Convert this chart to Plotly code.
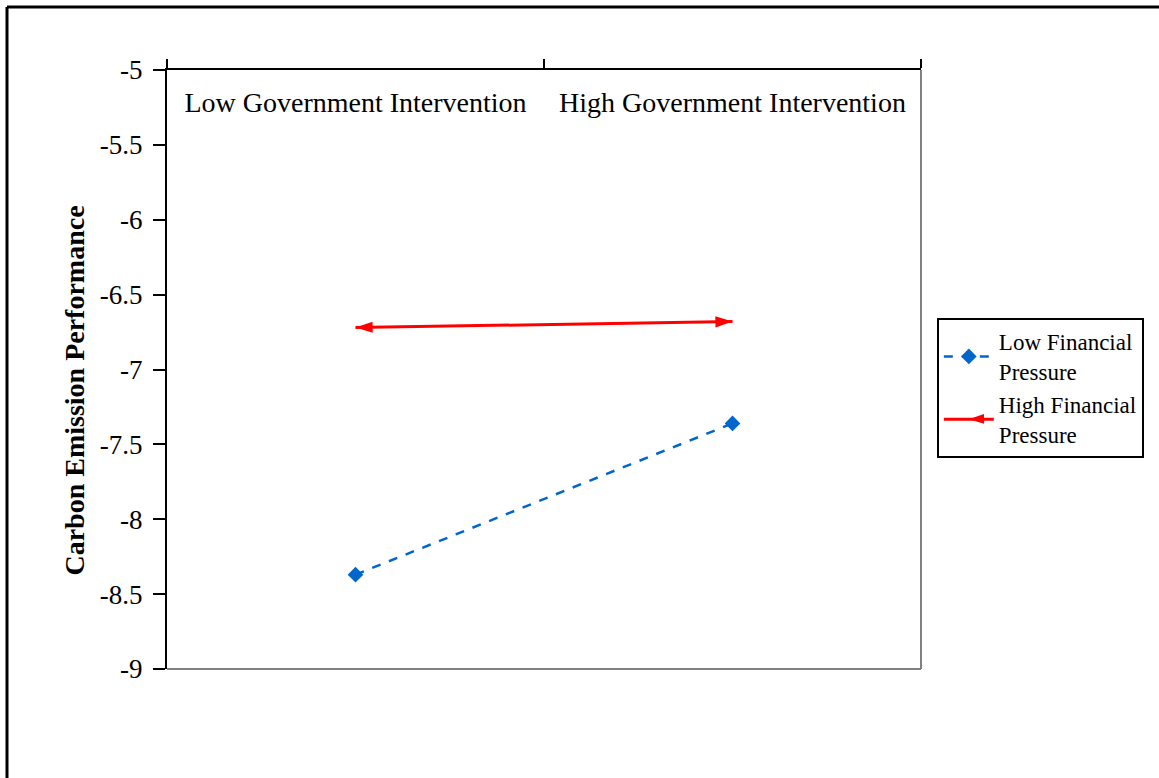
import plotly.graph_objects as go

categories = ["Low Government Intervention", "High Government Intervention"]
low_fp = [-8.37, -7.36]
high_fp = [-6.72, -6.68]
series_names = ["Low Financial<br>Pressure", "High Financial<br>Pressure"]
y_ticks = [-5, -5.5, -6, -6.5, -7, -7.5, -8, -8.5, -9]

FONT = "Liberation Serif, Times New Roman, serif"

fig = go.Figure()
fig.add_trace(go.Scatter(
    x=categories, y=low_fp, name=series_names[0], mode="lines+markers",
    line=dict(color="#0066CC", width=2.5, dash="dash"),
    marker=dict(symbol="diamond", size=12, color="#0066CC"),
))
fig.add_trace(go.Scatter(
    x=categories, y=high_fp, name=series_names[1], mode="lines+markers",
    line=dict(color="#FF0000", width=3),
    marker=dict(symbol="arrow", size=18, color="#FF0000", angle=[-91, 89]),
))

fig.update_layout(
    width=1159, height=778,
    margin=dict(l=167, r=238, t=70, b=109),
    paper_bgcolor="white", plot_bgcolor="white",
    font=dict(family=FONT, size=22, color="black"),
    showlegend=True,
    legend=dict(
        x=1.021, y=0.586, xanchor="left", yanchor="top",
        bordercolor="black", borderwidth=2, bgcolor="white",
        font=dict(family=FONT, size=23, color="black"),
        itemwidth=50, tracegroupgap=0,
    ),
    xaxis=dict(
        type="category", side="top", range=[-0.5, 1.5], automargin=False,
        showline=True, linecolor="black", linewidth=2,
        ticks="outside", tickson="boundaries", ticklen=9, tickwidth=2, tickcolor="black",
        ticklabelposition="outside", ticklabelstandoff=-55,
        showgrid=False, zeroline=False,
        tickfont=dict(family=FONT, size=28, color="black"),
    ),
    yaxis=dict(
        range=[-9, -5], tickvals=y_ticks, ticktext=[f"{v:g}" for v in y_ticks],
        automargin=False,
        showline=True, linecolor="black", linewidth=2,
        ticks="outside", ticklen=12, tickwidth=2, tickcolor="black",
        ticklabelstandoff=5,
        showgrid=False, zeroline=False,
        tickfont=dict(family=FONT, size=27, color="black"),
        title=dict(text="<b>Carbon Emission Performance</b>" + "&nbsp;" * 6, standoff=7,
                   font=dict(family=FONT, size=28, color="black")),
    ),
    shapes=[
        dict(type="line", xref="paper", yref="paper", x0=1, x1=1, y0=0, y1=1,
             line=dict(color="#808080", width=2)),
        dict(type="line", xref="paper", yref="paper", x0=0, x1=1, y0=0, y1=0,
             line=dict(color="#808080", width=2)),
        dict(type="line", xref="paper", yref="paper", x0=-0.2122, x1=-0.2122, y0=-0.3, y1=1.105,
             line=dict(color="black", width=3)),
        dict(type="line", xref="paper", yref="paper", x0=-0.2122, x1=1.4, y0=1.105, y1=1.105,
             line=dict(color="black", width=3)),
    ],
)

fig.write_html("out.html")
